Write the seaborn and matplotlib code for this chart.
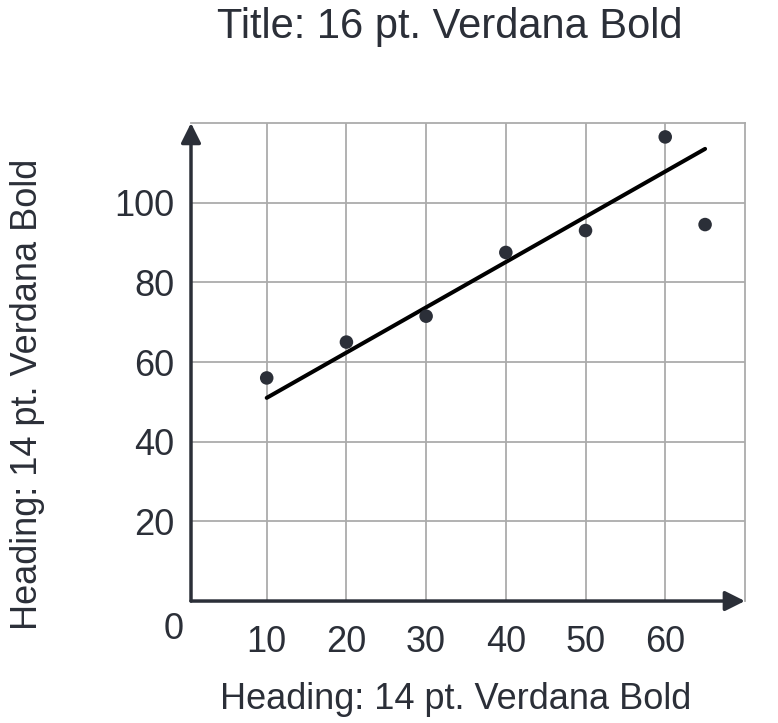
import matplotlib
matplotlib.use('Agg')
import matplotlib.pyplot as plt
import pandas as pd
import seaborn as sns

# data
x_vals = [10, 20, 30, 40, 50, 60, 65]
y_vals = [56, 65, 71.5, 87.5, 93, 116.5, 94.5]
line_x = [10, 65]
line_y = [51, 113.5]
x_ticks = [10, 20, 30, 40, 50, 60]
y_ticks = [20, 40, 60, 80, 100]

dark = '#2b2f38'
grey = '#ababab'

sns.set_style('white')
plt.rcParams['font.family'] = ['Liberation Sans', 'DejaVu Sans']

df = pd.DataFrame({'x': x_vals, 'y': y_vals})
df_line = pd.DataFrame({'x': line_x, 'y': line_y})

fig = plt.figure(figsize=(7.78, 7.23), dpi=100)
ax = fig.add_axes([0.2455, 0.1687, 0.712, 0.6612])

sns.scatterplot(data=df, x='x', y='y', ax=ax, color=dark, s=95, edgecolor='none', zorder=4)
sns.lineplot(data=df_line, x='x', y='y', ax=ax, color='black', linewidth=2.9, zorder=3)

ax.set_xlim(0.5, 70)
ax.set_ylim(0, 120)
ax.set_xticks(x_ticks)
ax.set_yticks(y_ticks)
ax.grid(True, color=grey, linewidth=1.3)
ax.set_axisbelow(True)
ax.tick_params(axis='both', direction='inout', length=20, width=2.5, color=dark,
               labelsize=26, labelcolor=dark)
ax.tick_params(axis='x', pad=7)
ax.tick_params(axis='y', pad=2)
ax.set_xlabel('')
ax.set_ylabel('')

for side in ['top', 'right']:
    ax.spines[side].set_color(grey)
    ax.spines[side].set_linewidth(1.3)
for side in ['left', 'bottom']:
    ax.spines[side].set_visible(False)

# axis lines with arrow heads
ax.annotate('', xy=(0, 1), xytext=(0, 0), xycoords='axes fraction',
            arrowprops=dict(arrowstyle='-|>', color=dark, lw=2.5, mutation_scale=30,
                            shrinkA=0, shrinkB=0), zorder=5)
ax.annotate('', xy=(1, 0), xytext=(0, 0), xycoords='axes fraction',
            arrowprops=dict(arrowstyle='-|>', color=dark, lw=2.5, mutation_scale=30,
                            shrinkA=0, shrinkB=0), zorder=5)

ax.annotate('0', xy=(0, 0), xycoords='axes fraction', xytext=(-5, -8),
            textcoords='offset points', ha='right', va='top', fontsize=26, color=dark)

fig.text(0.578, 0.962, 'Title: 16 pt. Verdana Bold', ha='center', va='center',
         fontsize=30, color=dark)
fig.text(0.585, 0.032, 'Heading: 14 pt. Verdana Bold', ha='center', va='center',
         fontsize=26, color=dark)
fig.text(0.035, 0.454, 'Heading: 14 pt. Verdana Bold', ha='center', va='center',
         rotation=90, fontsize=26, color=dark)

fig.savefig('out.png', dpi=100)
